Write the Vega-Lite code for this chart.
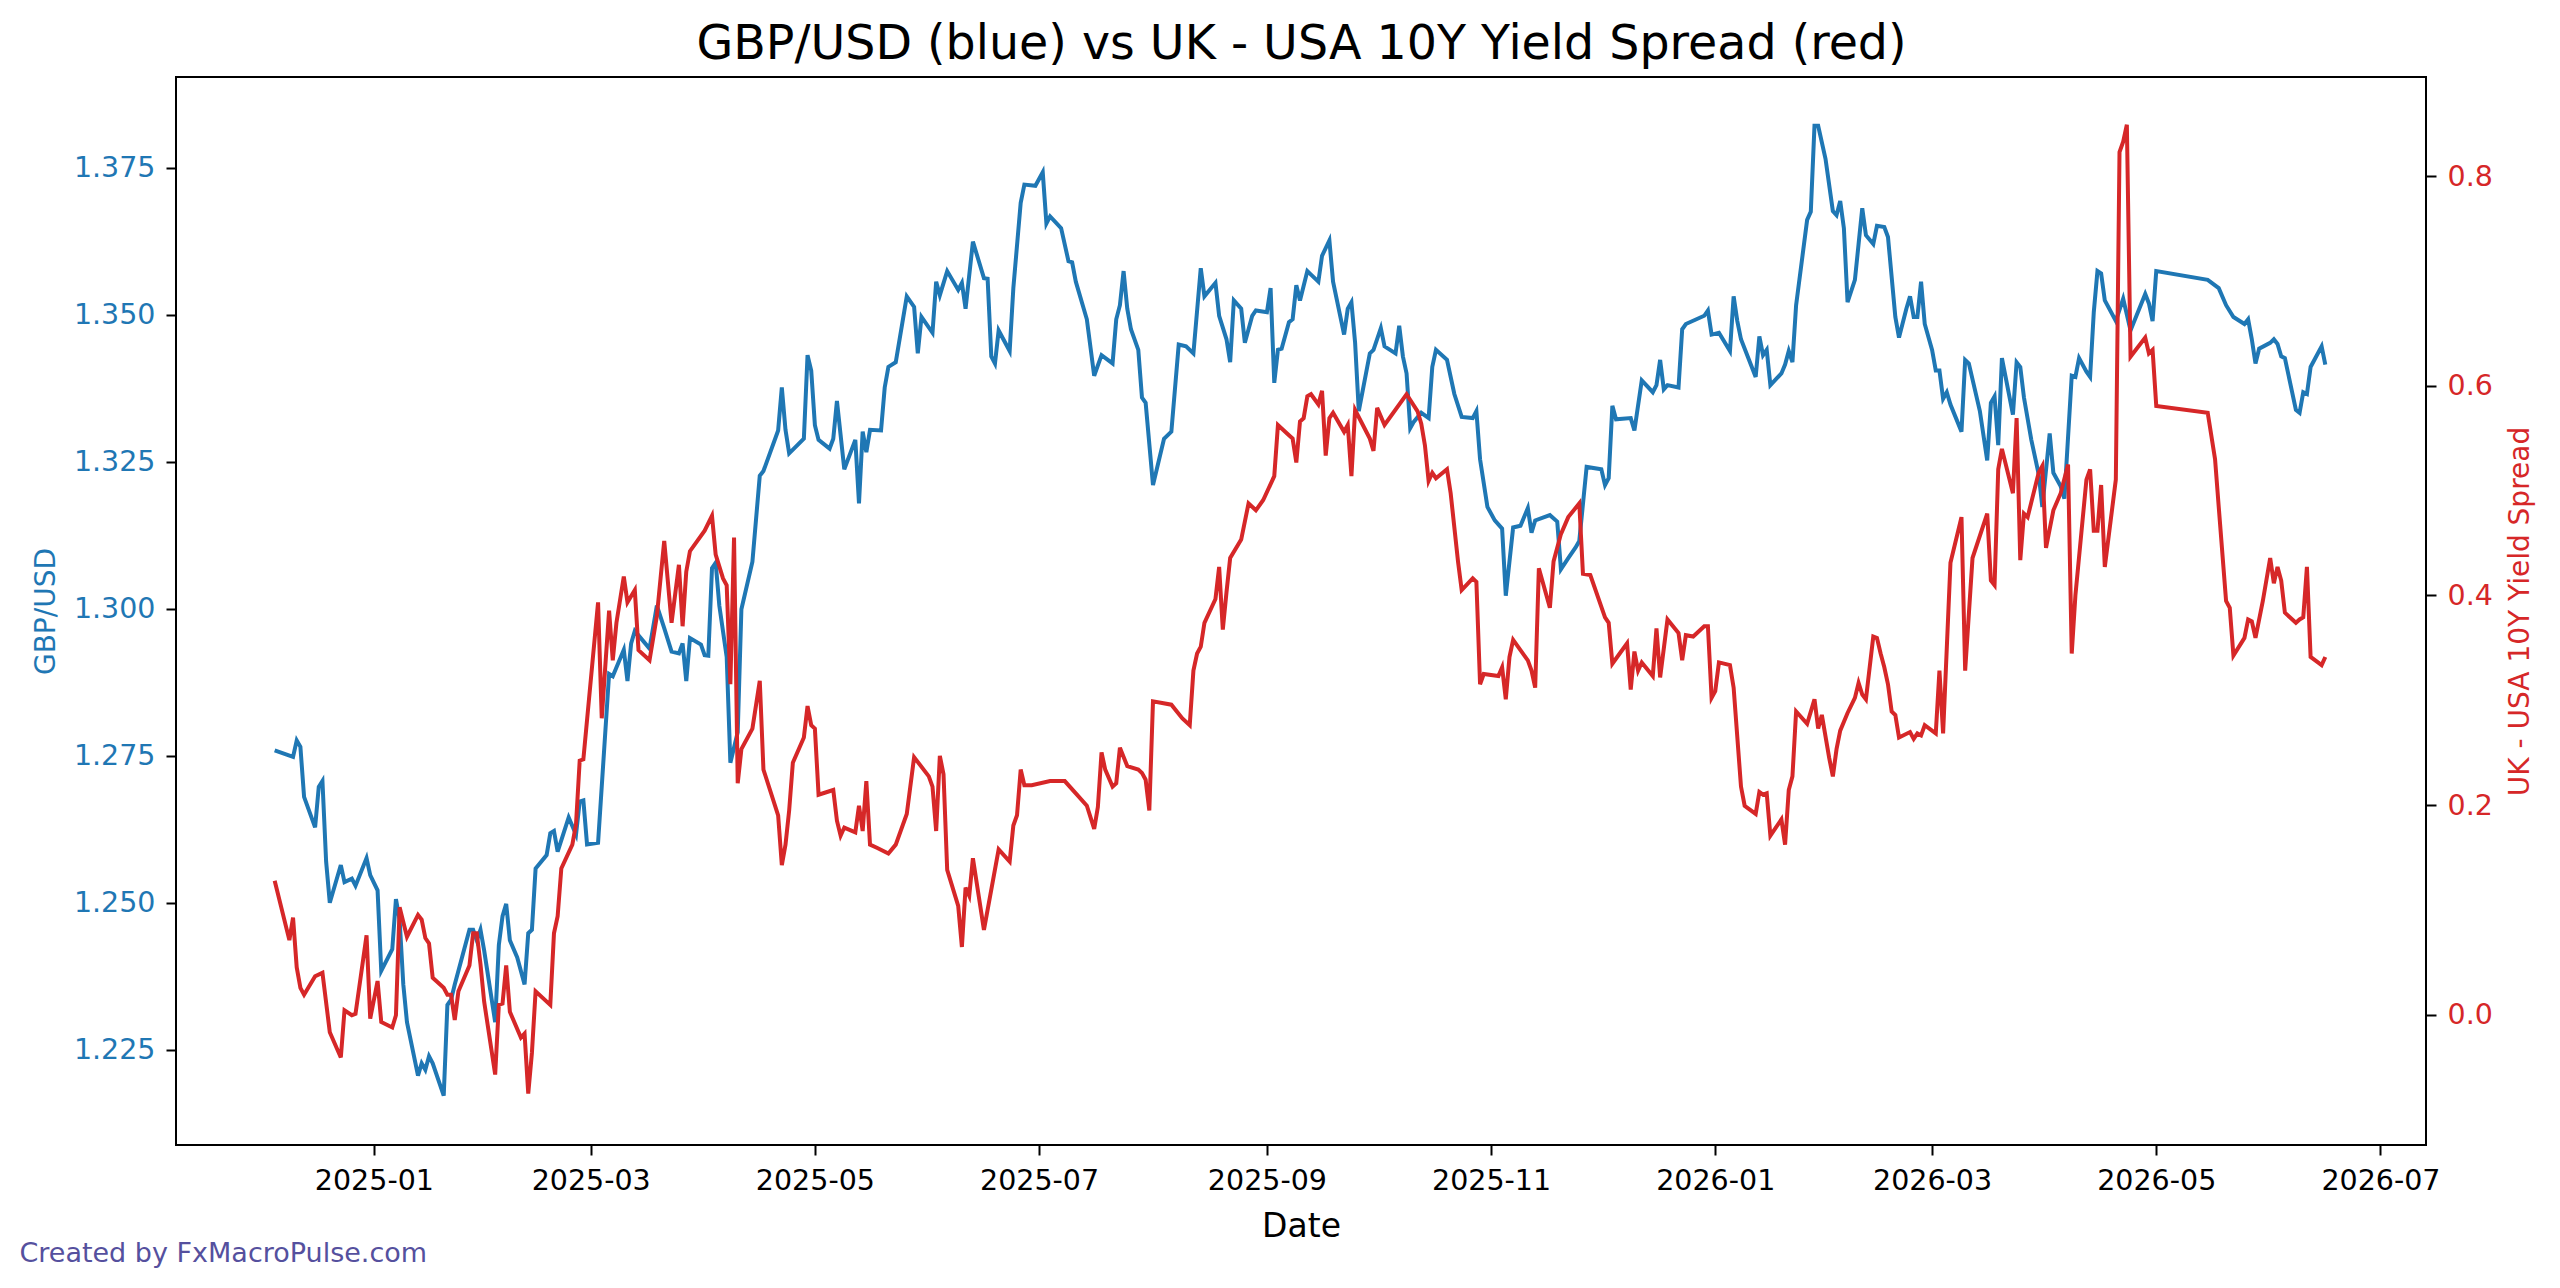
{
  "$schema": "https://vega.github.io/schema/vega-lite/v6.json",
  "width": 2250,
  "height": 1068,
  "autosize": {"type": "none"},
  "padding": {"left": 176, "top": 77, "right": 134, "bottom": 143},
  "background": "white",
  "config": {
    "font": "DejaVu Sans",
    "view": {"stroke": "black", "strokeWidth": 2},
    "axis": {
      "grid": false, "domain": false, "tickColor": "black", "tickWidth": 2, "tickSize": 10,
      "labelPadding": 11, "labelFontSize": 28.5, "labelFont": "DejaVu Sans",
      "titleFont": "DejaVu Sans", "titleFontWeight": "normal"
    }
  },
  "title": {
    "text": "Created by FxMacroPulse.com", "orient": "bottom", "anchor": "start", "frame": "bounds",
    "offset": -3, "dx": -13, "fontSize": 27, "fontWeight": "normal", "color": "#55509e", "font": "DejaVu Sans"
  },
  "datasets": {
    "gbp": [
      {"date":"2024-12-05","gbpusd":1.2759},{"date":"2024-12-10","gbpusd":1.2748},{"date":"2024-12-11","gbpusd":1.2776},{"date":"2024-12-12","gbpusd":1.2765},{"date":"2024-12-13","gbpusd":1.2680},{"date":"2024-12-16","gbpusd":1.2628},{"date":"2024-12-17","gbpusd":1.2697},{"date":"2024-12-18","gbpusd":1.2707},{"date":"2024-12-19","gbpusd":1.2570},{"date":"2024-12-20","gbpusd":1.2500},{"date":"2024-12-23","gbpusd":1.2564},{"date":"2024-12-24","gbpusd":1.2535},{"date":"2024-12-26","gbpusd":1.2541},{"date":"2024-12-27","gbpusd":1.2529},{"date":"2024-12-30","gbpusd":1.2576},{"date":"2024-12-31","gbpusd":1.2547},
      {"date":"2025-01-02","gbpusd":1.2521},{"date":"2025-01-03","gbpusd":1.2384},{"date":"2025-01-06","gbpusd":1.2421},{"date":"2025-01-07","gbpusd":1.2506},{"date":"2025-01-08","gbpusd":1.2471},{"date":"2025-01-09","gbpusd":1.2361},{"date":"2025-01-10","gbpusd":1.2297},{"date":"2025-01-13","gbpusd":1.2206},{"date":"2025-01-14","gbpusd":1.2227},{"date":"2025-01-15","gbpusd":1.2216},{"date":"2025-01-16","gbpusd":1.2239},{"date":"2025-01-17","gbpusd":1.2227},{"date":"2025-01-20","gbpusd":1.2172},{"date":"2025-01-21","gbpusd":1.2326},{"date":"2025-01-22","gbpusd":1.2335},{"date":"2025-01-23","gbpusd":1.2361},{"date":"2025-01-27","gbpusd":1.2454},{"date":"2025-01-28","gbpusd":1.2454},{"date":"2025-01-29","gbpusd":1.2436},{"date":"2025-01-30","gbpusd":1.2454},{"date":"2025-01-31","gbpusd":1.2419},
      {"date":"2025-02-03","gbpusd":1.2297},{"date":"2025-02-04","gbpusd":1.2428},{"date":"2025-02-05","gbpusd":1.2477},{"date":"2025-02-06","gbpusd":1.2498},{"date":"2025-02-07","gbpusd":1.2436},{"date":"2025-02-09","gbpusd":1.2407},{"date":"2025-02-11","gbpusd":1.2361},{"date":"2025-02-12","gbpusd":1.2448},{"date":"2025-02-13","gbpusd":1.2454},{"date":"2025-02-14","gbpusd":1.2558},{"date":"2025-02-17","gbpusd":1.2581},{"date":"2025-02-18","gbpusd":1.2618},{"date":"2025-02-19","gbpusd":1.2622},{"date":"2025-02-20","gbpusd":1.2587},{"date":"2025-02-23","gbpusd":1.2645},{"date":"2025-02-25","gbpusd":1.2616},{"date":"2025-02-26","gbpusd":1.2672},{"date":"2025-02-27","gbpusd":1.2674},{"date":"2025-02-28","gbpusd":1.2599},
      {"date":"2025-03-03","gbpusd":1.2602},{"date":"2025-03-06","gbpusd":1.2889},{"date":"2025-03-07","gbpusd":1.2885},{"date":"2025-03-10","gbpusd":1.2930},{"date":"2025-03-11","gbpusd":1.2877},{"date":"2025-03-12","gbpusd":1.2941},{"date":"2025-03-13","gbpusd":1.2962},{"date":"2025-03-17","gbpusd":1.2932},{"date":"2025-03-19","gbpusd":1.3005},{"date":"2025-03-21","gbpusd":1.2967},{"date":"2025-03-23","gbpusd":1.2927},{"date":"2025-03-25","gbpusd":1.2924},{"date":"2025-03-26","gbpusd":1.2941},{"date":"2025-03-27","gbpusd":1.2877},{"date":"2025-03-28","gbpusd":1.2950},{"date":"2025-03-31","gbpusd":1.2939},
      {"date":"2025-04-01","gbpusd":1.2921},{"date":"2025-04-02","gbpusd":1.2920},{"date":"2025-04-03","gbpusd":1.3069},{"date":"2025-04-04","gbpusd":1.3078},{"date":"2025-04-05","gbpusd":1.3005},{"date":"2025-04-07","gbpusd":1.2918},{"date":"2025-04-08","gbpusd":1.2738},{"date":"2025-04-10","gbpusd":1.2790},{"date":"2025-04-11","gbpusd":1.2999},{"date":"2025-04-14","gbpusd":1.3080},{"date":"2025-04-16","gbpusd":1.3226},{"date":"2025-04-17","gbpusd":1.3234},{"date":"2025-04-21","gbpusd":1.3303},{"date":"2025-04-22","gbpusd":1.3376},{"date":"2025-04-23","gbpusd":1.3304},{"date":"2025-04-24","gbpusd":1.3264},{"date":"2025-04-28","gbpusd":1.3289},{"date":"2025-04-29","gbpusd":1.3431},{"date":"2025-04-30","gbpusd":1.3405},
      {"date":"2025-05-01","gbpusd":1.3312},{"date":"2025-05-02","gbpusd":1.3287},{"date":"2025-05-05","gbpusd":1.3272},{"date":"2025-05-06","gbpusd":1.3289},{"date":"2025-05-07","gbpusd":1.3353},{"date":"2025-05-09","gbpusd":1.3237},{"date":"2025-05-12","gbpusd":1.3287},{"date":"2025-05-13","gbpusd":1.3179},{"date":"2025-05-14","gbpusd":1.3301},{"date":"2025-05-15","gbpusd":1.3266},{"date":"2025-05-16","gbpusd":1.3304},{"date":"2025-05-19","gbpusd":1.3303},{"date":"2025-05-20","gbpusd":1.3376},{"date":"2025-05-21","gbpusd":1.3411},{"date":"2025-05-23","gbpusd":1.3419},{"date":"2025-05-26","gbpusd":1.3531},{"date":"2025-05-28","gbpusd":1.3513},{"date":"2025-05-29","gbpusd":1.3434},{"date":"2025-05-30","gbpusd":1.3496},
      {"date":"2025-06-02","gbpusd":1.3469},{"date":"2025-06-03","gbpusd":1.3556},{"date":"2025-06-04","gbpusd":1.3533},{"date":"2025-06-06","gbpusd":1.3574},{"date":"2025-06-09","gbpusd":1.3542},{"date":"2025-06-10","gbpusd":1.3554},{"date":"2025-06-11","gbpusd":1.3510},{"date":"2025-06-13","gbpusd":1.3624},{"date":"2025-06-16","gbpusd":1.3562},{"date":"2025-06-17","gbpusd":1.3561},{"date":"2025-06-18","gbpusd":1.3429},{"date":"2025-06-19","gbpusd":1.3417},{"date":"2025-06-20","gbpusd":1.3473},{"date":"2025-06-23","gbpusd":1.3438},{"date":"2025-06-24","gbpusd":1.3545},{"date":"2025-06-26","gbpusd":1.3690},{"date":"2025-06-27","gbpusd":1.3721},{"date":"2025-06-30","gbpusd":1.3719},
      {"date":"2025-07-02","gbpusd":1.3742},{"date":"2025-07-03","gbpusd":1.3655},{"date":"2025-07-04","gbpusd":1.3667},{"date":"2025-07-07","gbpusd":1.3647},{"date":"2025-07-09","gbpusd":1.3591},{"date":"2025-07-10","gbpusd":1.3589},{"date":"2025-07-11","gbpusd":1.3556},{"date":"2025-07-14","gbpusd":1.3492},{"date":"2025-07-16","gbpusd":1.3396},{"date":"2025-07-18","gbpusd":1.3431},{"date":"2025-07-21","gbpusd":1.3417},{"date":"2025-07-22","gbpusd":1.3492},{"date":"2025-07-23","gbpusd":1.3516},{"date":"2025-07-24","gbpusd":1.3574},{"date":"2025-07-25","gbpusd":1.3510},{"date":"2025-07-26","gbpusd":1.3475},{"date":"2025-07-28","gbpusd":1.3440},{"date":"2025-07-29","gbpusd":1.3359},{"date":"2025-07-30","gbpusd":1.3350},
      {"date":"2025-08-01","gbpusd":1.3210},{"date":"2025-08-04","gbpusd":1.3289},{"date":"2025-08-06","gbpusd":1.3301},{"date":"2025-08-08","gbpusd":1.3449},{"date":"2025-08-10","gbpusd":1.3446},{"date":"2025-08-12","gbpusd":1.3434},{"date":"2025-08-14","gbpusd":1.3579},{"date":"2025-08-15","gbpusd":1.3531},{"date":"2025-08-18","gbpusd":1.3554},{"date":"2025-08-19","gbpusd":1.3498},{"date":"2025-08-21","gbpusd":1.3458},{"date":"2025-08-22","gbpusd":1.3419},{"date":"2025-08-23","gbpusd":1.3524},{"date":"2025-08-25","gbpusd":1.3510},{"date":"2025-08-26","gbpusd":1.3452},{"date":"2025-08-28","gbpusd":1.3498},{"date":"2025-08-29","gbpusd":1.3507},
      {"date":"2025-09-01","gbpusd":1.3504},{"date":"2025-09-02","gbpusd":1.3545},{"date":"2025-09-03","gbpusd":1.3384},{"date":"2025-09-04","gbpusd":1.3440},{"date":"2025-09-05","gbpusd":1.3442},{"date":"2025-09-07","gbpusd":1.3487},{"date":"2025-09-08","gbpusd":1.3492},{"date":"2025-09-09","gbpusd":1.3550},{"date":"2025-09-10","gbpusd":1.3524},{"date":"2025-09-12","gbpusd":1.3574},{"date":"2025-09-13","gbpusd":1.3568},{"date":"2025-09-15","gbpusd":1.3556},{"date":"2025-09-16","gbpusd":1.3600},{"date":"2025-09-18","gbpusd":1.3626},{"date":"2025-09-19","gbpusd":1.3556},{"date":"2025-09-22","gbpusd":1.3466},{"date":"2025-09-23","gbpusd":1.3510},{"date":"2025-09-24","gbpusd":1.3521},{"date":"2025-09-25","gbpusd":1.3452},{"date":"2025-09-26","gbpusd":1.3336},{"date":"2025-09-29","gbpusd":1.3434},{"date":"2025-09-30","gbpusd":1.3440},
      {"date":"2025-10-02","gbpusd":1.3477},{"date":"2025-10-03","gbpusd":1.3446},{"date":"2025-10-06","gbpusd":1.3434},{"date":"2025-10-07","gbpusd":1.3481},{"date":"2025-10-08","gbpusd":1.3429},{"date":"2025-10-09","gbpusd":1.3400},{"date":"2025-10-10","gbpusd":1.3307},{"date":"2025-10-11","gbpusd":1.3318},{"date":"2025-10-13","gbpusd":1.3333},{"date":"2025-10-15","gbpusd":1.3324},{"date":"2025-10-16","gbpusd":1.3411},{"date":"2025-10-17","gbpusd":1.3440},{"date":"2025-10-20","gbpusd":1.3423},{"date":"2025-10-22","gbpusd":1.3365},{"date":"2025-10-24","gbpusd":1.3326},{"date":"2025-10-27","gbpusd":1.3324},{"date":"2025-10-28","gbpusd":1.3336},{"date":"2025-10-29","gbpusd":1.3254},{"date":"2025-10-31","gbpusd":1.3173},
      {"date":"2025-11-02","gbpusd":1.3150},{"date":"2025-11-04","gbpusd":1.3136},{"date":"2025-11-05","gbpusd":1.3022},{"date":"2025-11-07","gbpusd":1.3138},{"date":"2025-11-09","gbpusd":1.3141},{"date":"2025-11-11","gbpusd":1.3171},{"date":"2025-11-12","gbpusd":1.3129},{"date":"2025-11-13","gbpusd":1.3150},{"date":"2025-11-17","gbpusd":1.3159},{"date":"2025-11-19","gbpusd":1.3148},{"date":"2025-11-20","gbpusd":1.3067},{"date":"2025-11-22","gbpusd":1.3086},{"date":"2025-11-24","gbpusd":1.3104},{"date":"2025-11-25","gbpusd":1.3115},{"date":"2025-11-27","gbpusd":1.3241},
      {"date":"2025-12-01","gbpusd":1.3237},{"date":"2025-12-02","gbpusd":1.3210},{"date":"2025-12-03","gbpusd":1.3222},{"date":"2025-12-04","gbpusd":1.3345},{"date":"2025-12-05","gbpusd":1.3322},{"date":"2025-12-09","gbpusd":1.3324},{"date":"2025-12-10","gbpusd":1.3303},{"date":"2025-12-12","gbpusd":1.3388},{"date":"2025-12-15","gbpusd":1.3368},{"date":"2025-12-16","gbpusd":1.3380},{"date":"2025-12-17","gbpusd":1.3423},{"date":"2025-12-18","gbpusd":1.3373},{"date":"2025-12-19","gbpusd":1.3380},{"date":"2025-12-22","gbpusd":1.3376},{"date":"2025-12-23","gbpusd":1.3475},{"date":"2025-12-24","gbpusd":1.3484},{"date":"2025-12-29","gbpusd":1.3498},{"date":"2025-12-30","gbpusd":1.3507},{"date":"2025-12-31","gbpusd":1.3466},
      {"date":"2026-01-02","gbpusd":1.3469},{"date":"2026-01-05","gbpusd":1.3438},{"date":"2026-01-06","gbpusd":1.3531},{"date":"2026-01-07","gbpusd":1.3489},{"date":"2026-01-08","gbpusd":1.3458},{"date":"2026-01-12","gbpusd":1.3394},{"date":"2026-01-13","gbpusd":1.3463},{"date":"2026-01-14","gbpusd":1.3431},{"date":"2026-01-15","gbpusd":1.3440},{"date":"2026-01-16","gbpusd":1.3380},{"date":"2026-01-19","gbpusd":1.3400},{"date":"2026-01-20","gbpusd":1.3415},{"date":"2026-01-21","gbpusd":1.3438},{"date":"2026-01-22","gbpusd":1.3419},{"date":"2026-01-23","gbpusd":1.3516},{"date":"2026-01-26","gbpusd":1.3661},{"date":"2026-01-27","gbpusd":1.3675},{"date":"2026-01-28","gbpusd":1.3821},{"date":"2026-01-29","gbpusd":1.3821},{"date":"2026-01-31","gbpusd":1.3765},
      {"date":"2026-02-02","gbpusd":1.3676},{"date":"2026-02-03","gbpusd":1.3669},{"date":"2026-02-04","gbpusd":1.3693},{"date":"2026-02-05","gbpusd":1.3647},{"date":"2026-02-06","gbpusd":1.3521},{"date":"2026-02-08","gbpusd":1.3559},{"date":"2026-02-09","gbpusd":1.3620},{"date":"2026-02-10","gbpusd":1.3681},{"date":"2026-02-11","gbpusd":1.3635},{"date":"2026-02-13","gbpusd":1.3620},{"date":"2026-02-14","gbpusd":1.3651},{"date":"2026-02-16","gbpusd":1.3649},{"date":"2026-02-17","gbpusd":1.3632},{"date":"2026-02-19","gbpusd":1.3496},{"date":"2026-02-20","gbpusd":1.3461},{"date":"2026-02-22","gbpusd":1.3510},{"date":"2026-02-23","gbpusd":1.3531},{"date":"2026-02-24","gbpusd":1.3496},{"date":"2026-02-25","gbpusd":1.3496},{"date":"2026-02-26","gbpusd":1.3556},{"date":"2026-02-27","gbpusd":1.3484},
      {"date":"2026-03-01","gbpusd":1.3440},{"date":"2026-03-02","gbpusd":1.3405},{"date":"2026-03-03","gbpusd":1.3405},{"date":"2026-03-04","gbpusd":1.3357},{"date":"2026-03-05","gbpusd":1.3368},{"date":"2026-03-06","gbpusd":1.3347},{"date":"2026-03-09","gbpusd":1.3301},{"date":"2026-03-10","gbpusd":1.3423},{"date":"2026-03-11","gbpusd":1.3417},{"date":"2026-03-14","gbpusd":1.3336},{"date":"2026-03-16","gbpusd":1.3252},{"date":"2026-03-17","gbpusd":1.3350},{"date":"2026-03-18","gbpusd":1.3361},{"date":"2026-03-19","gbpusd":1.3278},{"date":"2026-03-20","gbpusd":1.3426},{"date":"2026-03-21","gbpusd":1.3394},{"date":"2026-03-23","gbpusd":1.3330},{"date":"2026-03-24","gbpusd":1.3419},{"date":"2026-03-25","gbpusd":1.3411},{"date":"2026-03-26","gbpusd":1.3359},{"date":"2026-03-28","gbpusd":1.3287},{"date":"2026-03-30","gbpusd":1.3229},{"date":"2026-03-31","gbpusd":1.3173},
      {"date":"2026-04-02","gbpusd":1.3298},{"date":"2026-04-03","gbpusd":1.3231},{"date":"2026-04-05","gbpusd":1.3208},{"date":"2026-04-06","gbpusd":1.3187},{"date":"2026-04-08","gbpusd":1.3396},{"date":"2026-04-09","gbpusd":1.3394},{"date":"2026-04-10","gbpusd":1.3426},{"date":"2026-04-12","gbpusd":1.3403},{"date":"2026-04-13","gbpusd":1.3394},{"date":"2026-04-14","gbpusd":1.3504},{"date":"2026-04-15","gbpusd":1.3574},{"date":"2026-04-16","gbpusd":1.3570},{"date":"2026-04-17","gbpusd":1.3524},{"date":"2026-04-20","gbpusd":1.3489},{"date":"2026-04-22","gbpusd":1.3527},{"date":"2026-04-24","gbpusd":1.3473},{"date":"2026-04-28","gbpusd":1.3535},{"date":"2026-04-29","gbpusd":1.3519},{"date":"2026-04-30","gbpusd":1.3489},
      {"date":"2026-05-01","gbpusd":1.3574},{"date":"2026-05-15","gbpusd":1.3559},{"date":"2026-05-18","gbpusd":1.3545},{"date":"2026-05-20","gbpusd":1.3516},{"date":"2026-05-22","gbpusd":1.3496},{"date":"2026-05-25","gbpusd":1.3484},{"date":"2026-05-26","gbpusd":1.3492},{"date":"2026-05-27","gbpusd":1.3458},{"date":"2026-05-28","gbpusd":1.3417},{"date":"2026-05-29","gbpusd":1.3442},
      {"date":"2026-06-01","gbpusd":1.3452},{"date":"2026-06-02","gbpusd":1.3458},{"date":"2026-06-03","gbpusd":1.3450},{"date":"2026-06-04","gbpusd":1.3429},{"date":"2026-06-05","gbpusd":1.3426},{"date":"2026-06-08","gbpusd":1.3338},{"date":"2026-06-09","gbpusd":1.3333},{"date":"2026-06-10","gbpusd":1.3368},{"date":"2026-06-11","gbpusd":1.3365},{"date":"2026-06-12","gbpusd":1.3411},{"date":"2026-06-15","gbpusd":1.3446},{"date":"2026-06-16","gbpusd":1.3415}
    ],
    "spread": [
      {"date":"2024-12-05","spread":0.1278},{"date":"2024-12-09","spread":0.0712},{"date":"2024-12-10","spread":0.0927},{"date":"2024-12-11","spread":0.0452},{"date":"2024-12-12","spread":0.0257},{"date":"2024-12-13","spread":0.0191},{"date":"2024-12-16","spread":0.0367},{"date":"2024-12-18","spread":0.0400},{"date":"2024-12-20","spread":-0.0166},{"date":"2024-12-23","spread":-0.0407},{"date":"2024-12-24","spread":0.0042},{"date":"2024-12-26","spread":-0.0004},{"date":"2024-12-27","spread":0.0009},{"date":"2024-12-30","spread":0.0758},{"date":"2024-12-31","spread":-0.0036},
      {"date":"2025-01-02","spread":0.0322},{"date":"2025-01-03","spread":-0.0069},{"date":"2025-01-06","spread":-0.0121},{"date":"2025-01-07","spread":-0.0004},{"date":"2025-01-08","spread":0.1025},{"date":"2025-01-10","spread":0.0745},{"date":"2025-01-13","spread":0.0953},{"date":"2025-01-14","spread":0.0907},{"date":"2025-01-15","spread":0.0732},{"date":"2025-01-16","spread":0.0680},{"date":"2025-01-17","spread":0.0354},{"date":"2025-01-20","spread":0.0257},{"date":"2025-01-21","spread":0.0191},{"date":"2025-01-22","spread":0.0191},{"date":"2025-01-23","spread":-0.0049},{"date":"2025-01-24","spread":0.0224},{"date":"2025-01-27","spread":0.0471},{"date":"2025-01-28","spread":0.0777},{"date":"2025-01-29","spread":0.0777},{"date":"2025-01-30","spread":0.0484},{"date":"2025-01-31","spread":0.0126},
      {"date":"2025-02-03","spread":-0.0570},{"date":"2025-02-04","spread":0.0094},{"date":"2025-02-05","spread":0.0107},{"date":"2025-02-06","spread":0.0471},{"date":"2025-02-07","spread":0.0029},{"date":"2025-02-10","spread":-0.0218},{"date":"2025-02-11","spread":-0.0179},{"date":"2025-02-12","spread":-0.0752},{"date":"2025-02-13","spread":-0.0362},{"date":"2025-02-14","spread":0.0224},{"date":"2025-02-18","spread":0.0094},{"date":"2025-02-19","spread":0.0777},{"date":"2025-02-20","spread":0.0940},{"date":"2025-02-21","spread":0.1396},{"date":"2025-02-24","spread":0.1623},{"date":"2025-02-25","spread":0.1819},{"date":"2025-02-26","spread":0.2424},{"date":"2025-02-27","spread":0.2437},
      {"date":"2025-03-03","spread":0.3934},{"date":"2025-03-04","spread":0.2828},{"date":"2025-03-06","spread":0.3856},{"date":"2025-03-07","spread":0.3381},{"date":"2025-03-08","spread":0.3739},{"date":"2025-03-10","spread":0.4181},{"date":"2025-03-11","spread":0.3934},{"date":"2025-03-13","spread":0.4051},{"date":"2025-03-14","spread":0.3478},{"date":"2025-03-17","spread":0.3381},{"date":"2025-03-19","spread":0.3804},{"date":"2025-03-20","spread":0.4162},{"date":"2025-03-21","spread":0.4520},{"date":"2025-03-23","spread":0.3739},{"date":"2025-03-25","spread":0.4292},{"date":"2025-03-26","spread":0.3706},{"date":"2025-03-27","spread":0.4227},{"date":"2025-03-28","spread":0.4422},
      {"date":"2025-04-01","spread":0.4617},{"date":"2025-04-03","spread":0.4760},{"date":"2025-04-04","spread":0.4389},{"date":"2025-04-06","spread":0.4162},{"date":"2025-04-07","spread":0.4097},{"date":"2025-04-08","spread":0.3153},{"date":"2025-04-09","spread":0.4552},{"date":"2025-04-10","spread":0.2209},{"date":"2025-04-11","spread":0.2534},{"date":"2025-04-14","spread":0.2730},{"date":"2025-04-16","spread":0.3185},{"date":"2025-04-17","spread":0.2339},{"date":"2025-04-21","spread":0.1903},{"date":"2025-04-22","spread":0.1428},{"date":"2025-04-23","spread":0.1623},{"date":"2025-04-24","spread":0.1950},{"date":"2025-04-25","spread":0.2404},{"date":"2025-04-28","spread":0.2645},{"date":"2025-04-29","spread":0.2945},{"date":"2025-04-30","spread":0.2762},
      {"date":"2025-05-01","spread":0.2730},{"date":"2025-05-02","spread":0.2099},{"date":"2025-05-06","spread":0.2144},{"date":"2025-05-07","spread":0.1851},{"date":"2025-05-08","spread":0.1708},{"date":"2025-05-09","spread":0.1786},{"date":"2025-05-12","spread":0.1740},{"date":"2025-05-13","spread":0.1994},{"date":"2025-05-14","spread":0.1753},{"date":"2025-05-15","spread":0.2229},{"date":"2025-05-16","spread":0.1623},{"date":"2025-05-18","spread":0.1591},{"date":"2025-05-21","spread":0.1539},{"date":"2025-05-23","spread":0.1623},{"date":"2025-05-26","spread":0.1916},{"date":"2025-05-28","spread":0.2457},
      {"date":"2025-06-01","spread":0.2274},{"date":"2025-06-02","spread":0.2176},{"date":"2025-06-03","spread":0.1753},{"date":"2025-06-04","spread":0.2470},{"date":"2025-06-05","spread":0.2294},{"date":"2025-06-06","spread":0.1383},{"date":"2025-06-09","spread":0.1038},{"date":"2025-06-10","spread":0.0647},{"date":"2025-06-11","spread":0.1213},{"date":"2025-06-12","spread":0.1135},{"date":"2025-06-13","spread":0.1493},{"date":"2025-06-16","spread":0.0810},{"date":"2025-06-20","spread":0.1578},{"date":"2025-06-23","spread":0.1461},{"date":"2025-06-24","spread":0.1806},{"date":"2025-06-25","spread":0.1903},{"date":"2025-06-26","spread":0.2339},{"date":"2025-06-27","spread":0.2190},{"date":"2025-06-29","spread":0.2190},
      {"date":"2025-07-04","spread":0.2229},{"date":"2025-07-08","spread":0.2229},{"date":"2025-07-11","spread":0.2112},{"date":"2025-07-14","spread":0.1994},{"date":"2025-07-16","spread":0.1773},{"date":"2025-07-17","spread":0.1981},{"date":"2025-07-18","spread":0.2502},{"date":"2025-07-19","spread":0.2339},{"date":"2025-07-21","spread":0.2176},{"date":"2025-07-22","spread":0.2209},{"date":"2025-07-23","spread":0.2547},{"date":"2025-07-25","spread":0.2372},{"date":"2025-07-28","spread":0.2339},{"date":"2025-07-29","spread":0.2307},{"date":"2025-07-30","spread":0.2242},{"date":"2025-07-31","spread":0.1949},
      {"date":"2025-08-01","spread":0.2990},{"date":"2025-08-06","spread":0.2958},{"date":"2025-08-09","spread":0.2827},{"date":"2025-08-11","spread":0.2762},{"date":"2025-08-12","spread":0.3283},{"date":"2025-08-13","spread":0.3446},{"date":"2025-08-14","spread":0.3511},{"date":"2025-08-15","spread":0.3739},{"date":"2025-08-18","spread":0.3966},{"date":"2025-08-19","spread":0.4272},{"date":"2025-08-20","spread":0.3674},{"date":"2025-08-21","spread":0.4031},{"date":"2025-08-22","spread":0.4357},{"date":"2025-08-25","spread":0.4533},{"date":"2025-08-27","spread":0.4878},{"date":"2025-08-29","spread":0.4812},{"date":"2025-08-31","spread":0.4910},
      {"date":"2025-09-03","spread":0.5138},{"date":"2025-09-04","spread":0.5626},{"date":"2025-09-07","spread":0.5528},{"date":"2025-09-08","spread":0.5496},{"date":"2025-09-09","spread":0.5268},{"date":"2025-09-10","spread":0.5659},{"date":"2025-09-11","spread":0.5691},{"date":"2025-09-12","spread":0.5899},{"date":"2025-09-13","spread":0.5919},{"date":"2025-09-15","spread":0.5821},{"date":"2025-09-16","spread":0.5951},{"date":"2025-09-17","spread":0.5333},{"date":"2025-09-18","spread":0.5691},{"date":"2025-09-19","spread":0.5743},{"date":"2025-09-22","spread":0.5561},{"date":"2025-09-23","spread":0.5626},{"date":"2025-09-24","spread":0.5138},{"date":"2025-09-25","spread":0.5769},{"date":"2025-09-29","spread":0.5496},{"date":"2025-09-30","spread":0.5379},
      {"date":"2025-10-01","spread":0.5789},{"date":"2025-10-03","spread":0.5626},{"date":"2025-10-09","spread":0.5919},{"date":"2025-10-12","spread":0.5756},{"date":"2025-10-13","spread":0.5639},{"date":"2025-10-14","spread":0.5431},{"date":"2025-10-15","spread":0.5092},{"date":"2025-10-16","spread":0.5170},{"date":"2025-10-17","spread":0.5118},{"date":"2025-10-20","spread":0.5203},{"date":"2025-10-21","spread":0.4975},{"date":"2025-10-23","spread":0.4324},{"date":"2025-10-24","spread":0.4051},{"date":"2025-10-27","spread":0.4162},{"date":"2025-10-28","spread":0.4129},{"date":"2025-10-29","spread":0.3153},{"date":"2025-10-30","spread":0.3250},
      {"date":"2025-11-03","spread":0.3231},{"date":"2025-11-04","spread":0.3315},{"date":"2025-11-05","spread":0.3009},{"date":"2025-11-06","spread":0.3413},{"date":"2025-11-07","spread":0.3576},{"date":"2025-11-11","spread":0.3380},{"date":"2025-11-12","spread":0.3283},{"date":"2025-11-13","spread":0.3120},{"date":"2025-11-14","spread":0.4259},{"date":"2025-11-17","spread":0.3882},{"date":"2025-11-18","spread":0.4324},{"date":"2025-11-20","spread":0.4585},{"date":"2025-11-22","spread":0.4747},{"date":"2025-11-25","spread":0.4878},{"date":"2025-11-26","spread":0.4207},{"date":"2025-11-28","spread":0.4194},
      {"date":"2025-12-02","spread":0.3791},{"date":"2025-12-03","spread":0.3739},{"date":"2025-12-04","spread":0.3348},{"date":"2025-12-06","spread":0.3446},{"date":"2025-12-08","spread":0.3543},{"date":"2025-12-09","spread":0.3101},{"date":"2025-12-10","spread":0.3465},{"date":"2025-12-11","spread":0.3283},{"date":"2025-12-12","spread":0.3361},{"date":"2025-12-15","spread":0.3231},{"date":"2025-12-16","spread":0.3686},{"date":"2025-12-17","spread":0.3218},{"date":"2025-12-19","spread":0.3771},{"date":"2025-12-22","spread":0.3641},{"date":"2025-12-23","spread":0.3381},{"date":"2025-12-24","spread":0.3621},{"date":"2025-12-26","spread":0.3608},{"date":"2025-12-29","spread":0.3706},{"date":"2025-12-30","spread":0.3706},{"date":"2025-12-31","spread":0.3023},
      {"date":"2026-01-01","spread":0.3088},{"date":"2026-01-02","spread":0.3361},{"date":"2026-01-05","spread":0.3335},{"date":"2026-01-06","spread":0.3120},{"date":"2026-01-08","spread":0.2177},{"date":"2026-01-09","spread":0.1994},{"date":"2026-01-12","spread":0.1916},{"date":"2026-01-13","spread":0.2125},{"date":"2026-01-14","spread":0.2099},{"date":"2026-01-15","spread":0.2112},{"date":"2026-01-16","spread":0.1708},{"date":"2026-01-19","spread":0.1864},{"date":"2026-01-20","spread":0.1623},{"date":"2026-01-21","spread":0.2144},{"date":"2026-01-22","spread":0.2274},{"date":"2026-01-23","spread":0.2893},{"date":"2026-01-26","spread":0.2775},{"date":"2026-01-28","spread":0.3009},{"date":"2026-01-29","spread":0.2730},{"date":"2026-01-30","spread":0.2860},
      {"date":"2026-02-01","spread":0.2450},{"date":"2026-02-02","spread":0.2274},{"date":"2026-02-03","spread":0.2534},{"date":"2026-02-04","spread":0.2710},{"date":"2026-02-06","spread":0.2879},{"date":"2026-02-08","spread":0.3023},{"date":"2026-02-09","spread":0.3166},{"date":"2026-02-10","spread":0.3055},{"date":"2026-02-11","spread":0.3009},{"date":"2026-02-13","spread":0.3608},{"date":"2026-02-14","spread":0.3595},{"date":"2026-02-15","spread":0.3446},{"date":"2026-02-16","spread":0.3315},{"date":"2026-02-17","spread":0.3153},{"date":"2026-02-18","spread":0.2893},{"date":"2026-02-19","spread":0.2860},{"date":"2026-02-20","spread":0.2645},{"date":"2026-02-23","spread":0.2697},{"date":"2026-02-24","spread":0.2632},{"date":"2026-02-25","spread":0.2684},{"date":"2026-02-26","spread":0.2665},{"date":"2026-02-27","spread":0.2762},
      {"date":"2026-03-02","spread":0.2684},{"date":"2026-03-03","spread":0.3283},{"date":"2026-03-04","spread":0.2684},{"date":"2026-03-06","spread":0.4311},{"date":"2026-03-09","spread":0.4747},{"date":"2026-03-10","spread":0.3283},{"date":"2026-03-12","spread":0.4357},{"date":"2026-03-16","spread":0.4780},{"date":"2026-03-17","spread":0.4142},{"date":"2026-03-18","spread":0.4097},{"date":"2026-03-19","spread":0.5203},{"date":"2026-03-20","spread":0.5398},{"date":"2026-03-23","spread":0.4975},{"date":"2026-03-24","spread":0.5691},{"date":"2026-03-25","spread":0.4337},{"date":"2026-03-26","spread":0.4780},{"date":"2026-03-27","spread":0.4747},{"date":"2026-03-30","spread":0.5170},{"date":"2026-03-31","spread":0.5235},
      {"date":"2026-04-01","spread":0.4454},{"date":"2026-04-03","spread":0.4812},{"date":"2026-04-05","spread":0.4975},{"date":"2026-04-07","spread":0.5248},{"date":"2026-04-08","spread":0.3446},{"date":"2026-04-09","spread":0.4000},{"date":"2026-04-12","spread":0.5105},{"date":"2026-04-13","spread":0.5203},{"date":"2026-04-14","spread":0.4617},{"date":"2026-04-15","spread":0.4617},{"date":"2026-04-16","spread":0.5053},{"date":"2026-04-17","spread":0.4272},{"date":"2026-04-20","spread":0.5105},{"date":"2026-04-21","spread":0.8229},{"date":"2026-04-22","spread":0.8327},{"date":"2026-04-23","spread":0.8490},{"date":"2026-04-24","spread":0.6277},{"date":"2026-04-28","spread":0.6459},{"date":"2026-04-29","spread":0.6309},{"date":"2026-04-30","spread":0.6342},
      {"date":"2026-05-01","spread":0.5808},{"date":"2026-05-15","spread":0.5743},{"date":"2026-05-17","spread":0.5300},{"date":"2026-05-18","spread":0.4845},{"date":"2026-05-20","spread":0.3947},{"date":"2026-05-21","spread":0.3882},{"date":"2026-05-22","spread":0.3426},{"date":"2026-05-25","spread":0.3595},{"date":"2026-05-26","spread":0.3771},{"date":"2026-05-27","spread":0.3752},{"date":"2026-05-28","spread":0.3595},{"date":"2026-05-30","spread":0.3947},
      {"date":"2026-06-01","spread":0.4357},{"date":"2026-06-02","spread":0.4116},{"date":"2026-06-03","spread":0.4272},{"date":"2026-06-04","spread":0.4142},{"date":"2026-06-05","spread":0.3836},{"date":"2026-06-08","spread":0.3739},{"date":"2026-06-09","spread":0.3771},{"date":"2026-06-10","spread":0.3791},{"date":"2026-06-11","spread":0.4272},{"date":"2026-06-12","spread":0.3413},{"date":"2026-06-15","spread":0.3335},{"date":"2026-06-16","spread":0.3413}
    ]
  },
  "layer": [
    {
      "data": {"name": "gbp"},
      "mark": {"type": "line", "color": "#1f77b4", "strokeWidth": 4, "clip": true},
      "encoding": {
        "x": {
          "field": "date", "type": "temporal",
          "scale": {"type": "utc", "domain": [{"year": 2024, "month": 11, "date": 8, "hours": 3, "minutes": 36, "utc": true}, {"year": 2026, "month": 7, "date": 13, "hours": 9, "minutes": 36, "utc": true}]},
          "axis": {
            "orient": "bottom", "title": "Date", "titleFontSize": 33, "titleColor": "black", "titlePadding": 16,
            "labelColor": "black", "format": "%Y-%m",
            "values": [
              {"year": 2025, "month": 1, "date": 1, "utc": true}, {"year": 2025, "month": 3, "date": 1, "utc": true},
              {"year": 2025, "month": 5, "date": 1, "utc": true}, {"year": 2025, "month": 7, "date": 1, "utc": true},
              {"year": 2025, "month": 9, "date": 1, "utc": true}, {"year": 2025, "month": 11, "date": 1, "utc": true},
              {"year": 2026, "month": 1, "date": 1, "utc": true}, {"year": 2026, "month": 3, "date": 1, "utc": true},
              {"year": 2026, "month": 5, "date": 1, "utc": true}, {"year": 2026, "month": 7, "date": 1, "utc": true}
            ]
          }
        },
        "y": {
          "field": "gbpusd", "type": "quantitative",
          "scale": {"domain": [1.2088, 1.3904], "nice": false, "zero": false},
          "axis": {
            "orient": "left", "title": "GBP/USD", "titleFontSize": 28, "titleColor": "#1f77b4", "titlePadding": 13,
            "labelColor": "#1f77b4", "format": ".3f",
            "values": [1.225, 1.25, 1.275, 1.3, 1.325, 1.35, 1.375]
          }
        }
      }
    },
    {
      "data": {"name": "spread"},
      "mark": {"type": "line", "color": "#d62728", "strokeWidth": 4, "clip": true},
      "encoding": {
        "x": {
          "field": "date", "type": "temporal",
          "axis": {"orient": "top", "labels": false, "ticks": false, "domain": false, "title": "GBP/USD (blue) vs UK - USA 10Y Yield Spread (red)", "titleFontSize": 47.5, "titleColor": "black", "titlePadding": 9}
        },
        "y": {
          "field": "spread", "type": "quantitative",
          "scale": {"domain": [-0.1242, 0.8945], "nice": false, "zero": false},
          "axis": {
            "orient": "right", "title": "UK - USA 10Y Yield Spread", "titleFontSize": 28, "titleColor": "#d62728",
            "titleAngle": 270, "titleBaseline": "top", "titlePadding": 14,
            "labelColor": "#d62728", "format": ".1f", "values": [0, 0.2, 0.4, 0.6, 0.8]
          }
        }
      }
    }
  ],
  "resolve": {"scale": {"y": "independent"}, "axis": {"x": "independent", "y": "independent"}}
}
